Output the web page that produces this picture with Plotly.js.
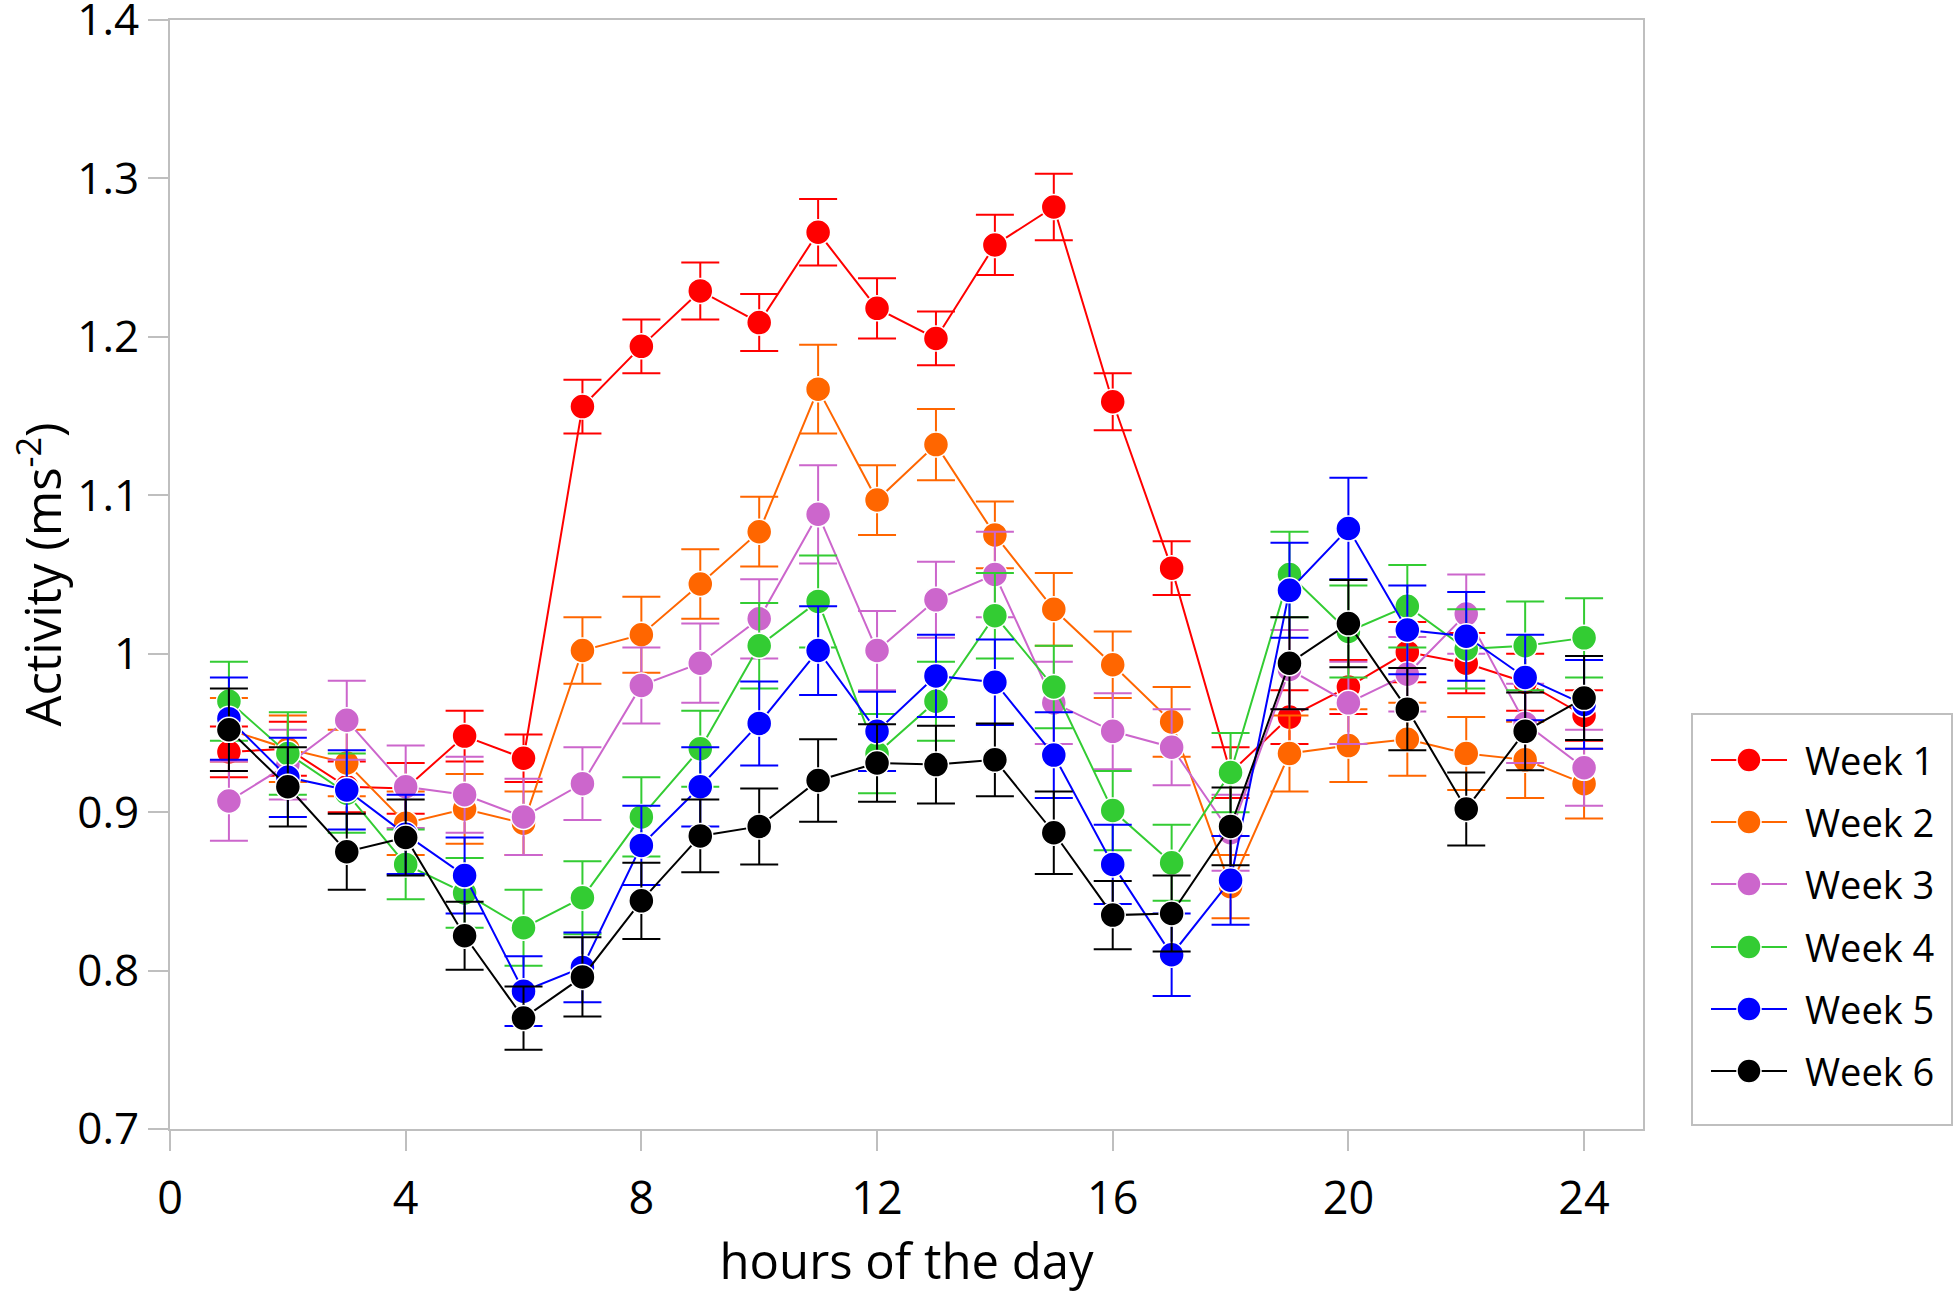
<!DOCTYPE html>
<html>
<head>
<meta charset="utf-8">
<script src="https://cdn.plot.ly/plotly-3.0.1.min.js"></script>
<style>
  html, body { margin: 0; padding: 0; background: #fff; }
  #plot { width: 1955px; height: 1298px; }
</style>
</head>
<body>
<div id="plot"></div>
<script>
// hourly activity means and error values
const hours = [1, 2, 3, 4, 5, 6, 7, 8, 9, 10, 11, 12, 13, 14, 15, 16, 17, 18, 19, 20, 21, 22, 23, 24];

const weekNames = ["Week 1", "Week 2", "Week 3", "Week 4", "Week 5", "Week 6"];
const weekColors = ["#ff0000", "#ff6600", "#cc66cc", "#33cc33", "#0000ff", "#000000"];

const week1 = [0.938, 0.940, 0.916, 0.915, 0.948, 0.934, 1.156, 1.194, 1.229, 1.209, 1.266, 1.218,
  1.199, 1.258, 1.282, 1.159, 1.054, 0.925, 0.960, 0.979, 1.001, 0.994, 0.982, 0.961];
const week1Err = [0.016, 0.017, 0.016, 0.016, 0.016, 0.015, 0.017, 0.017, 0.018, 0.018, 0.021, 0.019,
  0.017, 0.019, 0.021, 0.018, 0.017, 0.016, 0.017, 0.017, 0.019, 0.019, 0.018, 0.016];

const week2 = [0.952, 0.940, 0.931, 0.893, 0.902, 0.893, 1.002, 1.012, 1.044, 1.077, 1.167, 1.097,
  1.132, 1.075, 1.028, 0.993, 0.957, 0.853, 0.937, 0.942, 0.946, 0.937, 0.933, 0.918];
const week2Err = [0.020, 0.021, 0.021, 0.020, 0.022, 0.020, 0.021, 0.024, 0.022, 0.022, 0.028, 0.022,
  0.0225, 0.021, 0.023, 0.021, 0.022, 0.020, 0.024, 0.023, 0.023, 0.023, 0.024, 0.022];

const week3 = [0.907, 0.930, 0.958, 0.916, 0.911, 0.897, 0.918, 0.980, 0.994, 1.022, 1.088, 1.002,
  1.034, 1.050, 0.969, 0.951, 0.941, 0.887, 0.990, 0.969, 0.987, 1.025, 0.956, 0.928];
const week3Err = [0.025, 0.022, 0.025, 0.026, 0.024, 0.024, 0.023, 0.024, 0.025, 0.025, 0.031, 0.025,
  0.024, 0.027, 0.026, 0.024, 0.024, 0.024, 0.025, 0.026, 0.0235, 0.025, 0.025, 0.024];

const week4 = [0.970, 0.937, 0.912, 0.867, 0.849, 0.827, 0.846, 0.897, 0.940, 1.005, 1.033, 0.937,
  0.970, 1.024, 0.979, 0.901, 0.868, 0.925, 1.050, 1.014, 1.030, 1.003, 1.005, 1.010];
const week4Err = [0.025, 0.026, 0.025, 0.022, 0.022, 0.024, 0.023, 0.025, 0.024, 0.027, 0.029, 0.025,
  0.025, 0.027, 0.026, 0.025, 0.024, 0.025, 0.027, 0.029, 0.026, 0.025, 0.028, 0.025];

const week5 = [0.959, 0.922, 0.914, 0.886, 0.860, 0.787, 0.802, 0.879, 0.916, 0.956, 1.002, 0.951,
  0.986, 0.982, 0.936, 0.867, 0.810, 0.857, 1.040, 1.079, 1.015, 1.011, 0.985, 0.968];
const week5Err = [0.026, 0.025, 0.025, 0.025, 0.024, 0.022, 0.022, 0.025, 0.025, 0.0265, 0.028, 0.025,
  0.026, 0.027, 0.027, 0.025, 0.026, 0.028, 0.030, 0.032, 0.028, 0.028, 0.027, 0.028];

const week6 = [0.952, 0.916, 0.875, 0.884, 0.822, 0.770, 0.796, 0.844, 0.885, 0.891, 0.920, 0.931,
  0.930, 0.933, 0.887, 0.835, 0.836, 0.891, 0.994, 1.019, 0.965, 0.902, 0.951, 0.972];
const week6Err = [0.026, 0.025, 0.024, 0.024, 0.0215, 0.020, 0.025, 0.024, 0.023, 0.024, 0.026, 0.0245,
  0.0245, 0.023, 0.026, 0.0215, 0.024, 0.0245, 0.029, 0.0275, 0.026, 0.023, 0.0245, 0.0265];

const xTicks = [0, 4, 8, 12, 16, 20, 24];
const yTicks = [0.7, 0.8, 0.9, 1.0, 1.1, 1.2, 1.3, 1.4];
const yTickText = ["0.7", "0.8", "0.9", "1", "1.1", "1.2", "1.3", "1.4"];

const weekValues = [week1, week2, week3, week4, week5, week6];
const weekErrors = [week1Err, week2Err, week3Err, week4Err, week5Err, week6Err];

const fontFamily = "Open Sans, Lato, sans-serif";
const axisGray = "#bfbfbf";

// plot area in pixels, used to place the hand-made legend
const plotLeft = 170, plotRight = 1643, plotTop = 20, plotBottom = 1129;
const plotW = plotRight - plotLeft, plotH = plotBottom - plotTop;
function paperX(px) { return (px - plotLeft) / plotW; }
function paperY(py) { return (plotBottom - py) / plotH; }

// one trace per week, week 6 ends up on top
const data = [];
for (let i = 0; i < weekNames.length; i++) {
  data.push({
    x: hours,
    y: weekValues[i],
    name: weekNames[i],
    type: "scatter",
    mode: "lines+markers",
    line: { color: weekColors[i], width: 2 },
    marker: { color: weekColors[i], size: 25, line: { color: "#ffffff", width: 1.5 } },
    error_y: {
      type: "data",
      array: weekErrors[i],
      visible: true,
      color: weekColors[i],
      thickness: 2,
      width: 19
    }
  });
}

// legend drawn with shapes so the symbols can be as big as in the figure
const shapes = [{
  type: "rect", xref: "paper", yref: "paper",
  x0: paperX(1692), x1: paperX(1952), y0: paperY(1125), y1: paperY(714),
  line: { color: axisGray, width: 2 }, fillcolor: "#ffffff", layer: "below"
}];
const annotations = [];
const legendRowY = [760, 822, 884, 947, 1009, 1071];
for (let i = 0; i < weekNames.length; i++) {
  const cy = legendRowY[i];
  shapes.push({
    type: "line", xref: "paper", yref: "paper",
    x0: paperX(1711), x1: paperX(1787), y0: paperY(cy), y1: paperY(cy),
    line: { color: weekColors[i], width: 2 }
  });
  shapes.push({
    type: "circle", xref: "paper", yref: "paper",
    x0: paperX(1737), x1: paperX(1761), y0: paperY(cy + 12), y1: paperY(cy - 12),
    fillcolor: weekColors[i], line: { color: "#ffffff", width: 1.5 }
  });
  annotations.push({
    xref: "paper", yref: "paper",
    x: paperX(1803), y: paperY(cy),
    xanchor: "left", yanchor: "middle",
    text: weekNames[i], showarrow: false,
    font: { family: fontFamily, size: 38, color: "#000000" }
  });
}

const layout = {
  width: 1955,
  height: 1298,
  paper_bgcolor: "#ffffff",
  plot_bgcolor: "#ffffff",
  margin: { l: plotLeft, r: 1955 - plotRight, t: plotTop, b: 1298 - plotBottom },
  font: { family: fontFamily, color: "#000000" },
  showlegend: false,
  shapes: shapes,
  annotations: annotations,
  xaxis: {
    range: [0, 25],
    tickvals: xTicks,
    ticktext: xTicks.map(String),
    ticks: "outside",
    ticklen: 20,
    tickwidth: 2,
    tickcolor: axisGray,
    ticklabelstandoff: 9,
    ticklabeloverflow: "allow",
    showline: true,
    linecolor: axisGray,
    linewidth: 2,
    mirror: true,
    showgrid: false,
    zeroline: false,
    tickfont: { family: fontFamily, size: 45, color: "#000000" },
    title: {
      text: "hours of the day",
      font: { family: fontFamily, size: 49, color: "#000000" },
      standoff: 18
    }
  },
  yaxis: {
    range: [0.7, 1.4],
    tickvals: yTicks,
    ticktext: yTickText,
    ticks: "outside",
    ticklen: 20,
    tickwidth: 2,
    tickcolor: axisGray,
    ticklabeloverflow: "allow",
    showline: true,
    linecolor: axisGray,
    linewidth: 2,
    mirror: true,
    showgrid: false,
    zeroline: false,
    tickfont: { family: fontFamily, size: 44, color: "#000000" },
    title: {
      text: "Activity (ms<sup>-2</sup>)",
      font: { family: fontFamily, size: 49, color: "#000000" },
      standoff: 0
    }
  }
};

Plotly.newPlot(document.getElementById("plot"), data, layout, { staticPlot: true });
</script>
</body>
</html>
